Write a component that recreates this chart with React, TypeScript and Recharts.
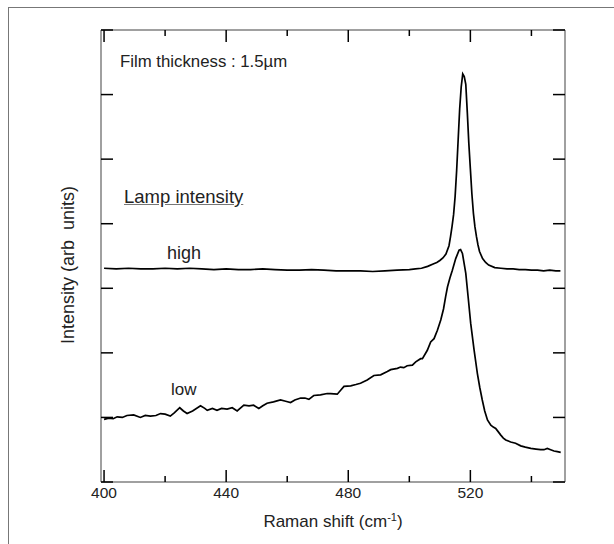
import { Line, LineChart, XAxis, YAxis } from "recharts";

// Raman shift (cm-1) and intensity (arb. units)
const highX = [400, 404, 408, 412, 416, 420, 424, 428, 432, 436, 440, 444, 448, 452, 456, 460, 464, 468, 472, 476, 480, 484, 488, 492, 496, 500, 502, 504, 506, 508, 509, 510, 511, 512, 513, 513.5, 514, 514.5, 515, 515.5, 516, 516.5, 517, 517.5, 518, 518.5, 519, 519.5, 520, 520.5, 521, 521.5, 522, 522.5, 523, 524, 525, 526, 528, 530, 532, 534, 536, 538, 540, 542, 544, 546, 548, 549.5];
const highY = [3.31, 3.30, 3.31, 3.30, 3.30, 3.31, 3.30, 3.31, 3.30, 3.29, 3.30, 3.29, 3.29, 3.30, 3.29, 3.28, 3.28, 3.29, 3.28, 3.27, 3.27, 3.27, 3.26, 3.27, 3.28, 3.29, 3.30, 3.31, 3.34, 3.38, 3.40, 3.43, 3.47, 3.53, 3.66, 3.80, 3.96, 4.14, 4.42, 4.82, 5.30, 5.78, 6.12, 6.32, 6.28, 6.16, 5.72, 5.24, 4.85, 4.46, 4.16, 3.95, 3.80, 3.67, 3.57, 3.46, 3.40, 3.36, 3.32, 3.31, 3.30, 3.30, 3.29, 3.29, 3.28, 3.28, 3.27, 3.28, 3.27, 3.27];

const lowX = [400, 401.5, 403, 404.3, 406, 407.5, 409.7, 411.9, 413.5, 415.2, 417, 418.5, 420, 421.7, 423, 424.8, 426, 427.2, 429, 431.6, 433, 433.8, 435.5, 437, 438.5, 440.3, 442, 443.6, 445.8, 447.5, 449, 450.7, 452, 453.4, 455.5, 457.8, 459.5, 461.1, 462.5, 464.4, 465.8, 467.1, 468.7, 470.9, 473.1, 474.2, 476.4, 477.5, 478.6, 480.8, 482.5, 484, 486.2, 488.4, 490.6, 492.8, 493.9, 496.1, 497.1, 498.2, 499.3, 501, 502.1, 503.7, 504.3, 505.9, 507, 508.1, 509.2, 510.3, 511.2, 511.9, 512.5, 513.3, 514.1, 515.2, 516.3, 516.8, 517.4, 518.5, 519.3, 520.1, 521.2, 522.3, 523.1, 523.9, 524.7, 525.6, 526.7, 527.5, 528.3, 529.1, 529.9, 530.8, 531.6, 533.2, 534.8, 536.5, 538, 539.8, 541.5, 543, 544.1, 545.2, 546.3, 547.4, 548.5, 549.6];
const lowY = [0.97, 0.99, 0.98, 1.01, 1.00, 1.03, 1.04, 1.00, 1.03, 1.02, 1.03, 1.06, 1.05, 1.02, 1.07, 1.15, 1.10, 1.06, 1.10, 1.18, 1.14, 1.11, 1.14, 1.11, 1.14, 1.13, 1.15, 1.10, 1.19, 1.18, 1.19, 1.14, 1.18, 1.22, 1.24, 1.27, 1.25, 1.23, 1.27, 1.30, 1.30, 1.28, 1.34, 1.35, 1.37, 1.37, 1.36, 1.42, 1.48, 1.49, 1.51, 1.53, 1.58, 1.65, 1.66, 1.71, 1.74, 1.76, 1.78, 1.77, 1.80, 1.81, 1.86, 1.91, 1.91, 2.04, 2.17, 2.22, 2.35, 2.51, 2.68, 2.87, 3.02, 3.16, 3.28, 3.46, 3.59, 3.60, 3.54, 3.23, 2.85, 2.46, 2.05, 1.68, 1.46, 1.27, 1.10, 0.96, 0.88, 0.85, 0.83, 0.78, 0.73, 0.68, 0.65, 0.62, 0.60, 0.56, 0.54, 0.52, 0.51, 0.50, 0.50, 0.52, 0.50, 0.48, 0.47, 0.46];

const xTicks = [400, 420, 440, 460, 480, 500, 520, 540];
const xTickLabels = [400, 440, 480, 520];
const yTicks = [0, 1, 2, 3, 4, 5, 6, 7];

const highData = highX.map((x, i) => ({ x, y: highY[i] }));
const lowData = lowX.map((x, i) => ({ x, y: lowY[i] }));

const W = 614;
const H = 544;
const PLOT_LEFT = 101;
const PLOT_RIGHT = 565;
const PLOT_TOP = 30;
const PLOT_BOTTOM = 482;
const FONT = '"Liberation Sans", Arial, Helvetica, sans-serif';
const FRAME = { stroke: "#808080", strokeWidth: 1.5 };

function BottomTick({ x, payload }: any) {
  const major = xTickLabels.includes(payload.value);
  return (
    <g>
      <line x1={x} x2={x} y1={PLOT_BOTTOM} y2={PLOT_BOTTOM - (major ? 12 : 6)} stroke="#000" strokeWidth={1.5} />
      {major && (
        <text x={x} y={PLOT_BOTTOM + 16} textAnchor="middle" fontSize={15.5} fontFamily={FONT} fill="#222">
          {payload.value}
        </text>
      )}
    </g>
  );
}

function TopTick({ x, payload }: any) {
  const major = xTickLabels.includes(payload.value);
  return <line x1={x} x2={x} y1={PLOT_TOP} y2={PLOT_TOP + (major ? 12 : 6)} stroke="#000" strokeWidth={1.5} />;
}

function LeftTick({ y }: any) {
  return <line x1={PLOT_LEFT} x2={PLOT_LEFT + 12} y1={y} y2={y} stroke="#000" strokeWidth={1.5} />;
}

function RightTick({ y }: any) {
  return <line x1={PLOT_RIGHT} x2={PLOT_RIGHT - 12} y1={y} y2={y} stroke="#000" strokeWidth={1.5} />;
}

export default function App() {
  return (
    <div style={{ position: "absolute", left: 0, top: 0, width: W, height: H, background: "#fff", fontFamily: FONT }}>
      <div style={{ position: "absolute", left: 8, top: 7, width: W - 8, height: H - 7, borderTop: "1.5px solid #777", borderLeft: "1.5px solid #777", boxSizing: "border-box" }} />
      <LineChart width={W} height={H} margin={{ top: 0, right: 0, bottom: 0, left: 0 }}>
        <XAxis
          type="number"
          dataKey="x"
          domain={[399, 551]}
          ticks={xTicks}
          interval={0}
          height={H - PLOT_BOTTOM}
          tickSize={0}
          tickMargin={0}
          tickLine={false}
          axisLine={FRAME}
          tick={(p: any) => <BottomTick {...p} />}
          allowDataOverflow
          label={{
            content: (p: any) => {
              const vb = p.viewBox;
              const cx = vb.x + vb.width / 2;
              return (
                <text x={cx} y={527} textAnchor="middle" fontSize={17} fontFamily={FONT} fill="#222">
                  Raman shift (cm<tspan dy={-6} fontSize={11}>-1</tspan><tspan dy={6}>)</tspan>
                </text>
              );
            },
          }}
        />
        <XAxis
          xAxisId="top"
          orientation="top"
          type="number"
          dataKey="x"
          domain={[399, 551]}
          ticks={xTicks}
          interval={0}
          height={PLOT_TOP}
          tickSize={0}
          tickMargin={0}
          tickLine={false}
          axisLine={FRAME}
          tick={(p: any) => <TopTick {...p} />}
          allowDataOverflow
        />
        <YAxis
          type="number"
          domain={[0, 7]}
          ticks={yTicks}
          interval={0}
          width={PLOT_LEFT}
          tickSize={0}
          tickMargin={0}
          tickLine={false}
          axisLine={FRAME}
          tick={(p: any) => <LeftTick {...p} />}
          allowDataOverflow
          label={{
            content: (p: any) => {
              const vb = p.viewBox;
              const cy = vb.y + vb.height / 2 + 9;
              return (
                <text x={68} y={cy} transform={`rotate(-90 68 ${cy})`} textAnchor="middle" dominantBaseline="central" fontSize={18} fontFamily={FONT} fill="#222" style={{ whiteSpace: "pre" }}>
                  {"Intensity (arb  units)"}
                </text>
              );
            },
          }}
        />
        <YAxis
          yAxisId="right"
          orientation="right"
          type="number"
          domain={[0, 7]}
          ticks={yTicks}
          interval={0}
          width={W - PLOT_RIGHT}
          tickSize={0}
          tickMargin={0}
          tickLine={false}
          axisLine={FRAME}
          tick={(p: any) => <RightTick {...p} />}
          allowDataOverflow
        />
        <Line data={highData} dataKey="y" type="linear" stroke="#000" strokeWidth={1.7} dot={false} isAnimationActive={false} />
        <Line data={lowData} dataKey="y" type="linear" stroke="#000" strokeWidth={1.7} dot={false} isAnimationActive={false} />
      </LineChart>
      <div style={{ position: "absolute", left: 120, top: 52, fontSize: 16.8, lineHeight: "20px", color: "#222", whiteSpace: "nowrap" }}>
        Film thickness : 1.5µm
      </div>
      <div style={{ position: "absolute", left: 124, top: 187, fontSize: 18.5, lineHeight: "20px", color: "#222", whiteSpace: "nowrap", textDecoration: "underline", textDecorationColor: "#777" }}>
        Lamp intensity
      </div>
      <div style={{ position: "absolute", left: 167, top: 243, fontSize: 18, lineHeight: "20px", color: "#222" }}>high</div>
      <div style={{ position: "absolute", left: 171, top: 380, fontSize: 17, lineHeight: "20px", color: "#222" }}>low</div>
    </div>
  );
}
